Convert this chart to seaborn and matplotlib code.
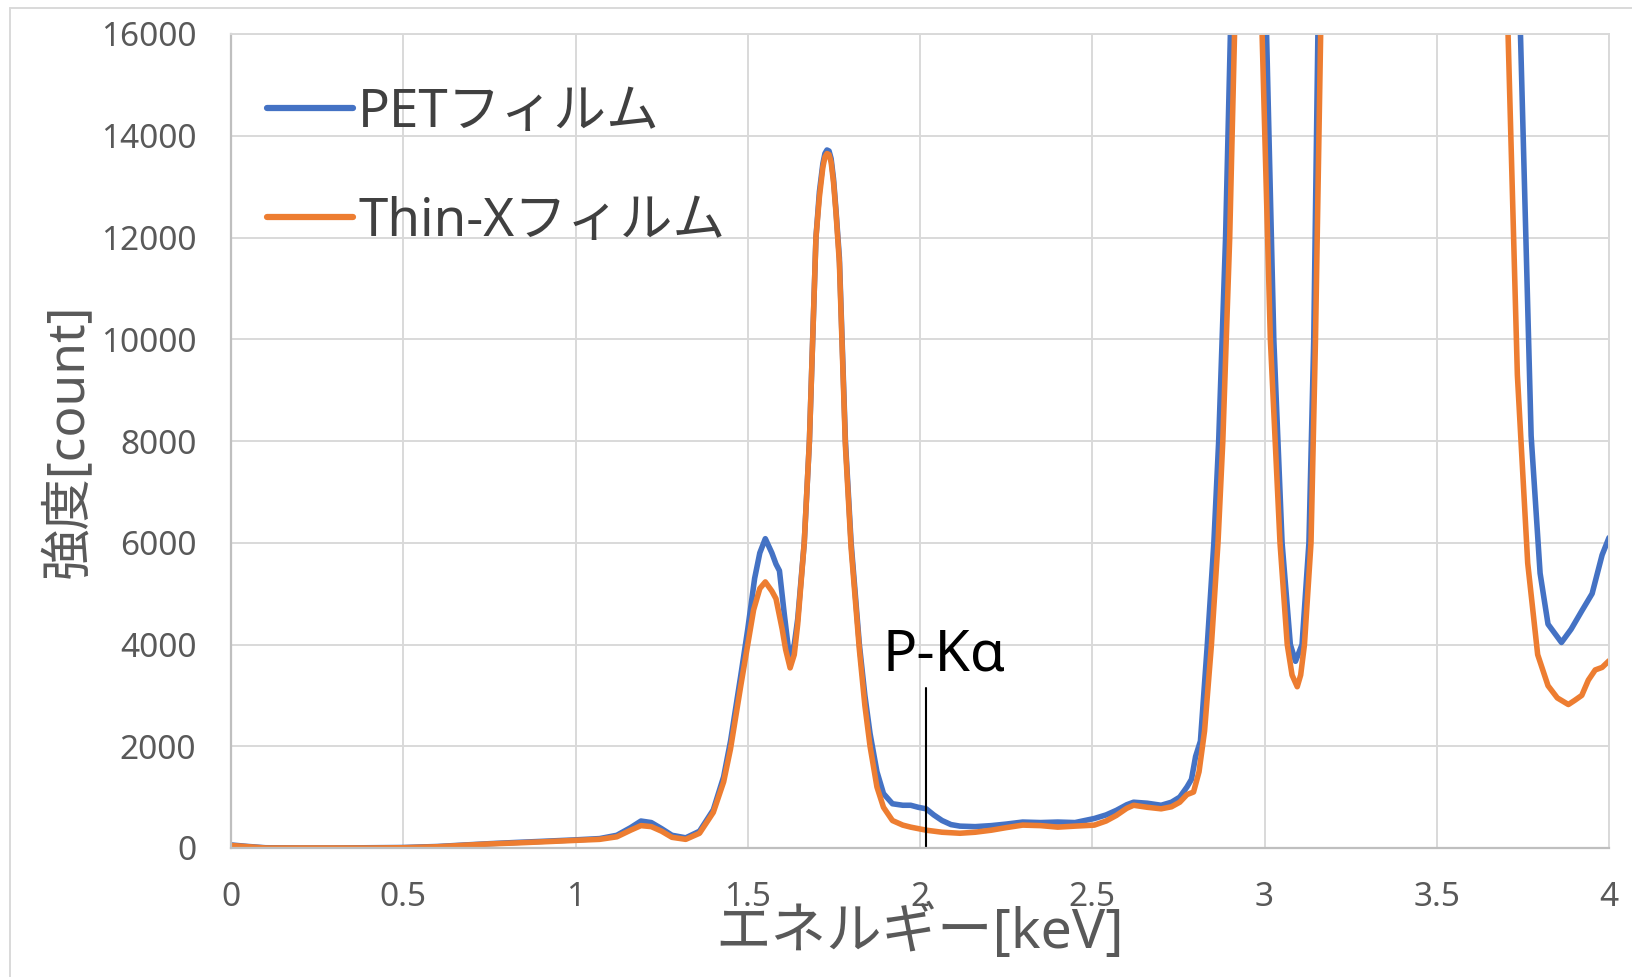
import matplotlib
matplotlib.use("Agg")
import matplotlib.pyplot as plt
import seaborn as sns
import pandas as pd
from matplotlib.lines import Line2D

# ---------------- data ----------------
pet_energy = [0.00, 0.05, 0.10, 0.20, 0.30, 0.40, 0.50, 0.60, 0.68, 0.75, 0.83, 0.90, 1.00, 1.07,
              1.12, 1.16, 1.19, 1.22, 1.25, 1.28, 1.32, 1.36, 1.40, 1.43, 1.45, 1.48, 1.50, 1.52,
              1.535, 1.551, 1.57, 1.582, 1.592, 1.606, 1.621, 1.635, 1.645, 1.664, 1.679, 1.698,
              1.708, 1.718, 1.724, 1.730, 1.736, 1.742, 1.749, 1.756, 1.766, 1.7835, 1.80, 1.824,
              1.84, 1.855, 1.875,
              1.894, 1.92, 1.95, 1.973, 1.995, 2.018, 2.04, 2.064, 2.09, 2.116, 2.16, 2.207, 2.25,
              2.298, 2.35, 2.40, 2.45, 2.506, 2.54, 2.57, 2.60, 2.62, 2.66, 2.70, 2.73, 2.754,
              2.775, 2.788, 2.80, 2.814, 2.834, 2.853, 2.867, 2.877, 2.887, 2.901, 2.93, 2.97,
              3.006, 3.027, 3.051, 3.075, 3.09, 3.109, 3.129, 3.143, 3.155, 3.17, 3.70, 3.743,
              3.774, 3.80, 3.823, 3.862, 3.89, 3.921, 3.951, 3.98, 4.00]
pet_counts = [60, 30, 5, 0, 0, 5, 10, 30, 60, 85, 110, 130, 160, 185,
              250, 400, 530, 500, 380, 250, 200, 330, 750, 1400, 2100, 3400, 4300, 5300,
              5800, 6080, 5800, 5580, 5450, 4600, 3750, 4000, 4500, 6000, 8000, 12000,
              12900, 13450, 13650, 13720, 13700, 13550, 13150, 12550, 11600, 8000, 6000, 4000,
              3000, 2250, 1500,
              1070, 870, 840, 840, 800, 770, 650, 540, 460, 430, 420, 440, 470,
              510, 500, 510, 500, 580, 650, 740, 850, 900, 880, 840, 900, 1000,
              1200, 1350, 1800, 2100, 4000, 6000, 8000, 10000, 12000, 16000, 30000, 30000,
              16000, 10000, 6000, 4000, 3670, 4000, 6000, 10000, 16000, 30000, 30000, 16000,
              8100, 5400, 4400, 4040, 4300, 4660, 5000, 5760, 6100]

thinx_energy = [0.00, 0.05, 0.10, 0.20, 0.30, 0.40, 0.50, 0.60, 0.68, 0.75, 0.83, 0.90, 1.00, 1.07,
                1.12, 1.16, 1.19, 1.22, 1.25, 1.28, 1.32, 1.36, 1.40, 1.43, 1.45, 1.48, 1.50, 1.517,
                1.535, 1.551, 1.57, 1.582, 1.60, 1.61, 1.623, 1.635, 1.645, 1.664, 1.679, 1.698,
                1.708, 1.718, 1.724, 1.730, 1.736, 1.742, 1.749, 1.756, 1.766, 1.7835, 1.80, 1.824,
                1.84, 1.855, 1.875,
                1.894, 1.92, 1.95, 1.973, 2.018, 2.064, 2.116, 2.16, 2.207, 2.25, 2.298, 2.35, 2.40,
                2.45, 2.506, 2.54, 2.57, 2.60, 2.62, 2.66, 2.70, 2.73, 2.754, 2.775, 2.794, 2.81,
                2.826, 2.846, 2.865, 2.879, 2.889, 2.899, 2.913, 2.94, 2.96, 2.993, 3.017, 3.045,
                3.066, 3.08, 3.095, 3.105, 3.116, 3.135, 3.148, 3.163, 3.18, 3.68, 3.707, 3.734,
                3.764, 3.793, 3.823, 3.85, 3.882, 3.90, 3.921, 3.94, 3.96, 3.98, 4.00]
thinx_counts = [50, 25, 0, 0, 0, 0, 5, 25, 55, 80, 100, 120, 150, 170,
                220, 350, 440, 420, 330, 210, 170, 290, 700, 1300, 1950, 3200, 4000, 4680,
                5100, 5230, 5050, 4900, 4300, 3900, 3540, 3800, 4400, 6000, 8000, 12000,
                12800, 13380, 13580, 13650, 13630, 13480, 13080, 12500, 11500, 7900, 5900, 3900,
                2800, 2000, 1200,
                800, 540, 450, 410, 350, 310, 290, 310, 350, 400, 450, 440, 410,
                430, 450, 530, 640, 780, 840, 800, 770, 810, 900, 1050, 1100, 1500,
                2300, 4000, 6000, 8000, 10000, 12000, 16000, 30000, 30000, 16000, 10000, 6000,
                4000, 3400, 3170, 3400, 4000, 6000, 10000, 16000, 30000, 30000, 16000, 9300,
                5600, 3800, 3190, 2950, 2820, 2900, 3000, 3300, 3500, 3550, 3680]

series_names = ["PETフィルム", "Thin-Xフィルム"]
series_colors = ["#4472C4", "#ED7D31"]
x_ticks = [0, 0.5, 1, 1.5, 2, 2.5, 3, 3.5, 4]
x_tick_labels = ["0", "0.5", "1", "1.5", "2", "2.5", "3", "3.5", "4"]
y_ticks = [0, 2000, 4000, 6000, 8000, 10000, 12000, 14000, 16000]
x_label = "エネルギー[keV]"
y_label = "強度[count]"
annotation_text = "P-Kα"
annotation_x = 2.017
annotation_top = 3150

df = pd.concat([
    pd.DataFrame({"energy": pet_energy, "counts": pet_counts, "series": series_names[0]}),
    pd.DataFrame({"energy": thinx_energy, "counts": thinx_counts, "series": series_names[1]}),
], ignore_index=True)

# ---------------- style ----------------
sns.set_theme(style="white")
plt.rcParams["font.family"] = ["Noto Sans", "Noto Sans CJK JP", "DejaVu Sans"]

fig = plt.figure(figsize=(16.32, 9.77), dpi=100)
ax = fig.add_axes([231 / 1632, 1 - 848 / 977, (1609 - 231) / 1632, (848 - 34) / 977])

sns.lineplot(data=df, x="energy", y="counts", hue="series", hue_order=series_names,
             palette=series_colors, sort=False, estimator=None, linewidth=4.0, ax=ax,
             legend=False)
for ln in ax.get_lines():
    ln.set_solid_joinstyle("round")

ax.set_xlim(0, 4)
ax.set_ylim(0, 16000)
ax.set_xticks(x_ticks)
ax.set_xticklabels(x_tick_labels)
ax.set_yticks(y_ticks)
ax.grid(True, color="#d9d9d9", linewidth=1.4)
ax.set_axisbelow(True)
for side in ["top", "right"]:
    ax.spines[side].set_color("#d9d9d9")
    ax.spines[side].set_linewidth(1.4)
for side in ["left", "bottom"]:
    ax.spines[side].set_color("#bfbfbf")
    ax.spines[side].set_linewidth(1.6)
ax.tick_params(axis="both", length=0, labelsize=24, labelcolor="#595959")
ax.tick_params(axis="x", pad=24)
ax.tick_params(axis="y", pad=25)

ax.set_xlabel(x_label, fontsize=40, color="#595959", labelpad=-7)
ax.set_ylabel(y_label, fontsize=37, color="#595959", labelpad=4)

# legend
handles = [Line2D([0], [0], color=c, linewidth=4.5) for c in series_colors]
ax.legend(handles, series_names, loc="upper left", bbox_to_anchor=(0.026, 0.935),
          frameon=False, fontsize=38, handlelength=1.63, handletextpad=0.1,
          labelspacing=1.06, borderpad=0, borderaxespad=0,
          labelcolor="#404040")

# annotation
ax.plot([annotation_x, annotation_x], [0, annotation_top], color="black", linewidth=1.5)
ax.text(1.89, 3480, annotation_text, fontsize=41, color="black", ha="left", va="baseline")

# outer chart border (top and left visible)
fig.add_artist(Line2D([10 / 1632, 10 / 1632], [0, 1 - 8 / 977], transform=fig.transFigure,
                      color="#d9d9d9", linewidth=1.4))
fig.add_artist(Line2D([10 / 1632, 1], [1 - 8 / 977, 1 - 8 / 977], transform=fig.transFigure,
                      color="#d9d9d9", linewidth=1.4))

fig.savefig("out.png", dpi=100)
